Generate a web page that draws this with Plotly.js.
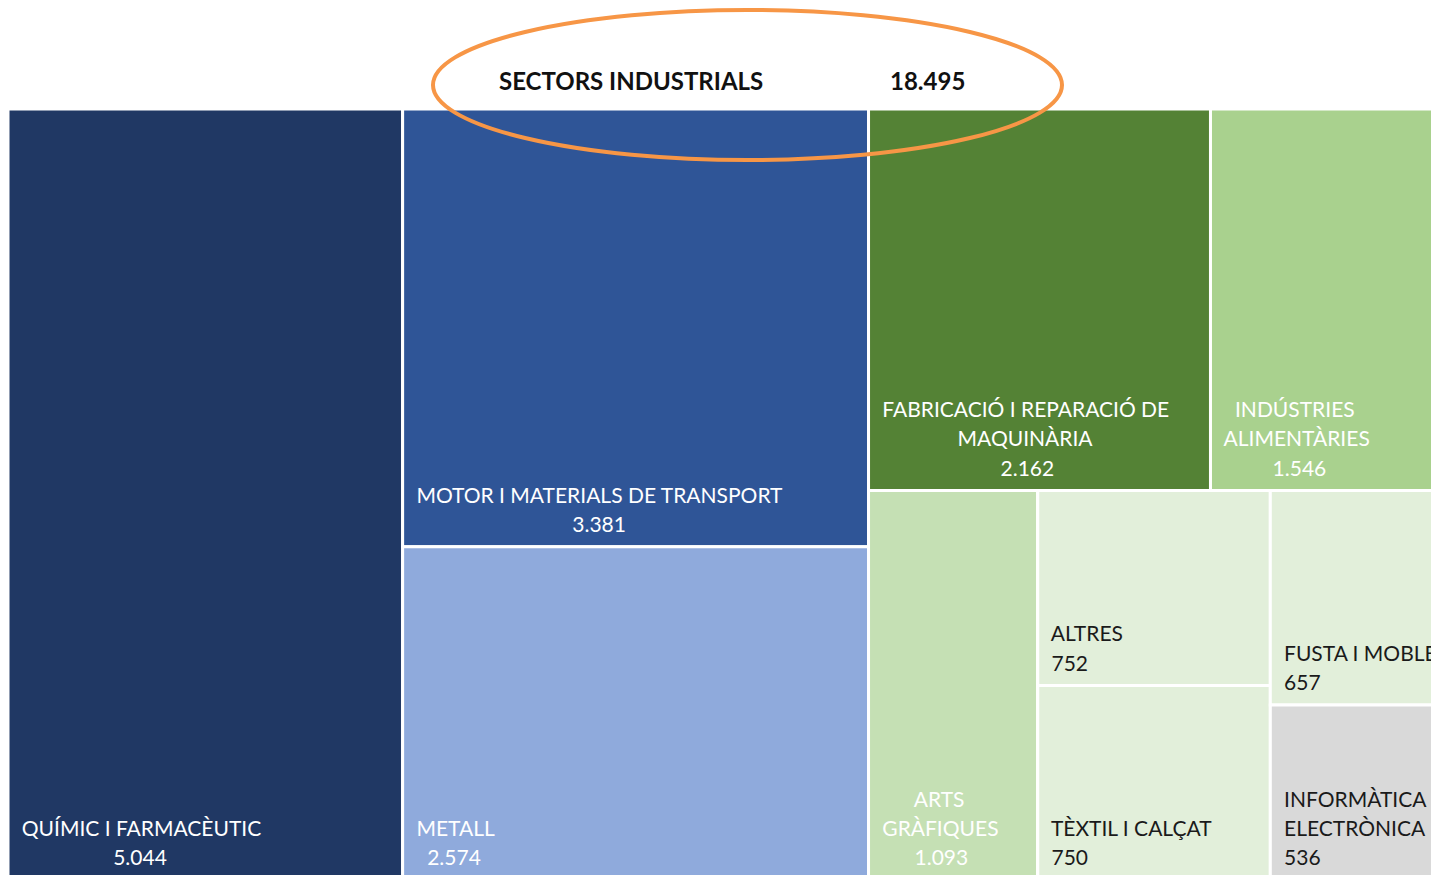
<!DOCTYPE html>
<html>
<head>
<meta charset="utf-8">
<script src="https://cdn.plot.ly/plotly-3.0.1.min.js"></script>
<style>
html, body { margin: 0; padding: 0; overflow: hidden; background: #ffffff; }
#chart { width: 1470px; height: 890px; }
</style>
</head>
<body>
<div id="chart"></div>
<script>
// ---- data ----
var rootTitle = "SECTORS INDUSTRIALS";
var ids = ["quimic", "motor", "metall", "fabricacio", "industries", "arts", "g1", "altres", "textil", "g2", "fusta", "informatica"];
var labels = ["QUÍMIC I FARMACÈUTIC", "MOTOR I MATERIALS DE TRANSPORT", "METALL",
  "FABRICACIÓ I REPARACIÓ DE<br>MAQUINÀRIA", "INDÚSTRIES<br>ALIMENTÀRIES", "ARTS<br>GRÀFIQUES",
  "", "ALTRES", "TÈXTIL I CALÇAT", "", "FUSTA I MOBLE", "INFORMÀTICA I<br>ELECTRÒNICA"];
var parents = ["", "", "", "", "", "", "", "g1", "g1", "", "g2", "g2"];
var values = [5044, 3381, 2574, 2162, 1546, 1093, 0, 752, 750, 0, 657, 536];
var colors = ["#203864", "#2F5597", "#8FAADC", "#548235", "#A9D18E", "#C5E0B4",
  "#E2EFDA", "#E2EFDA", "#E2EFDA", "#E2EFDA", "#E2EFDA", "#D9D9D9"];
var textColors = ["#ffffff", "#ffffff", "#ffffff", "#ffffff", "#ffffff", "#ffffff",
  "#1a1a1a", "#1a1a1a", "#1a1a1a", "#1a1a1a", "#1a1a1a", "#1a1a1a"];
// line alignment inside each label block (Excel style)
var centeredLines = [true, true, true, true, true, true, false, false, false, false, false, false];

var FONT = "Lato, 'Open Sans', sans-serif";
var FS = 21;        // visible label size
var BASE = 7.5;     // base size -> line step of 1.3*BASE px (used for spacing)

function fmt(n) { return String(n).replace(/\B(?=(\d{3})+(?!\d))/g, "."); }

var isGroup = ids.map(function (id) { return parents.indexOf(id) !== -1; });
var total = values.reduce(function (a, b) { return a + b; }, 0);

// build label text: small left inset, lines centred within block where needed,
// wider line spacing and a small bottom margin like the original
var ctx = document.createElement("canvas").getContext("2d");
ctx.font = FS + "px Lato";
var NB = "\u00a0";
var nbW = ctx.measureText(NB).width || 4;
function buildText(i) {
  if (isGroup[i]) return "";
  var lines = labels[i].split("<br>").concat([fmt(values[i])]);
  var ws = lines.map(function (l) { return ctx.measureText(l).width; });
  var maxW = Math.max.apply(null, ws);
  return lines.map(function (l, k) {
    var n = centeredLines[i] ? Math.round((maxW - ws[k]) / 2 / nbW) : 0;
    return "<span style='font-size:" + FS + "px'>" + NB + NB + new Array(n + 1).join(NB) + l + "</span>";
  }).join("<br><br><br>") + "<br>" + NB;
}
var texts = ids.map(function (_, i) { return buildText(i); });

var W = 1470, H = 890, ml = 8, mr = 15, mt = 109, mb = 10;
var pw = W - ml - mr, ph = H - mt - mb;
function px(x) { return (x - ml) / pw; }
function py(y) { return (H - mb - y) / ph; }

var trace = {
  type: "treemap",
  ids: ids,
  labels: labels,
  parents: parents,
  values: values,
  text: texts,
  branchvalues: "remainder",
  sort: false,
  tiling: { packing: "squarify", squarifyratio: 1, pad: 0 },
  marker: {
    colors: colors,
    line: { color: "#ffffff", width: 3 },
    pad: { t: 0, l: 0, r: 0, b: 0 }
  },
  pathbar: { visible: false },
  textinfo: "text",
  textposition: "bottom left",
  textfont: { family: FONT, size: BASE, color: textColors },
  insidetextfont: { family: FONT, size: BASE, color: textColors },
  hoverinfo: "skip"
};

var layout = {
  width: W, height: H,
  margin: { l: ml, r: mr, t: mt, b: mb, pad: 0 },
  paper_bgcolor: "#ffffff",
  separators: ",.",
  showlegend: false,
  annotations: [
    { text: "<b>" + rootTitle + "</b>", xref: "paper", yref: "paper",
      x: px(497), y: py(81), xanchor: "left", yanchor: "middle", showarrow: false,
      font: { family: FONT, size: 24, color: "#111111" } },
    { text: "<b>" + fmt(total) + "</b>", xref: "paper", yref: "paper",
      x: px(888), y: py(81), xanchor: "left", yanchor: "middle", showarrow: false,
      font: { family: FONT, size: 24, color: "#111111" } }
  ],
  shapes: [
    { type: "circle", xref: "paper", yref: "paper", layer: "above",
      x0: px(433), x1: px(1062), y0: py(160), y1: py(10),
      line: { color: "#F79646", width: 4 }, fillcolor: "rgba(0,0,0,0)" }
  ]
};

Plotly.newPlot("chart", [trace], layout, { displayModeBar: false, staticPlot: true });
</script>
</body>
</html>
